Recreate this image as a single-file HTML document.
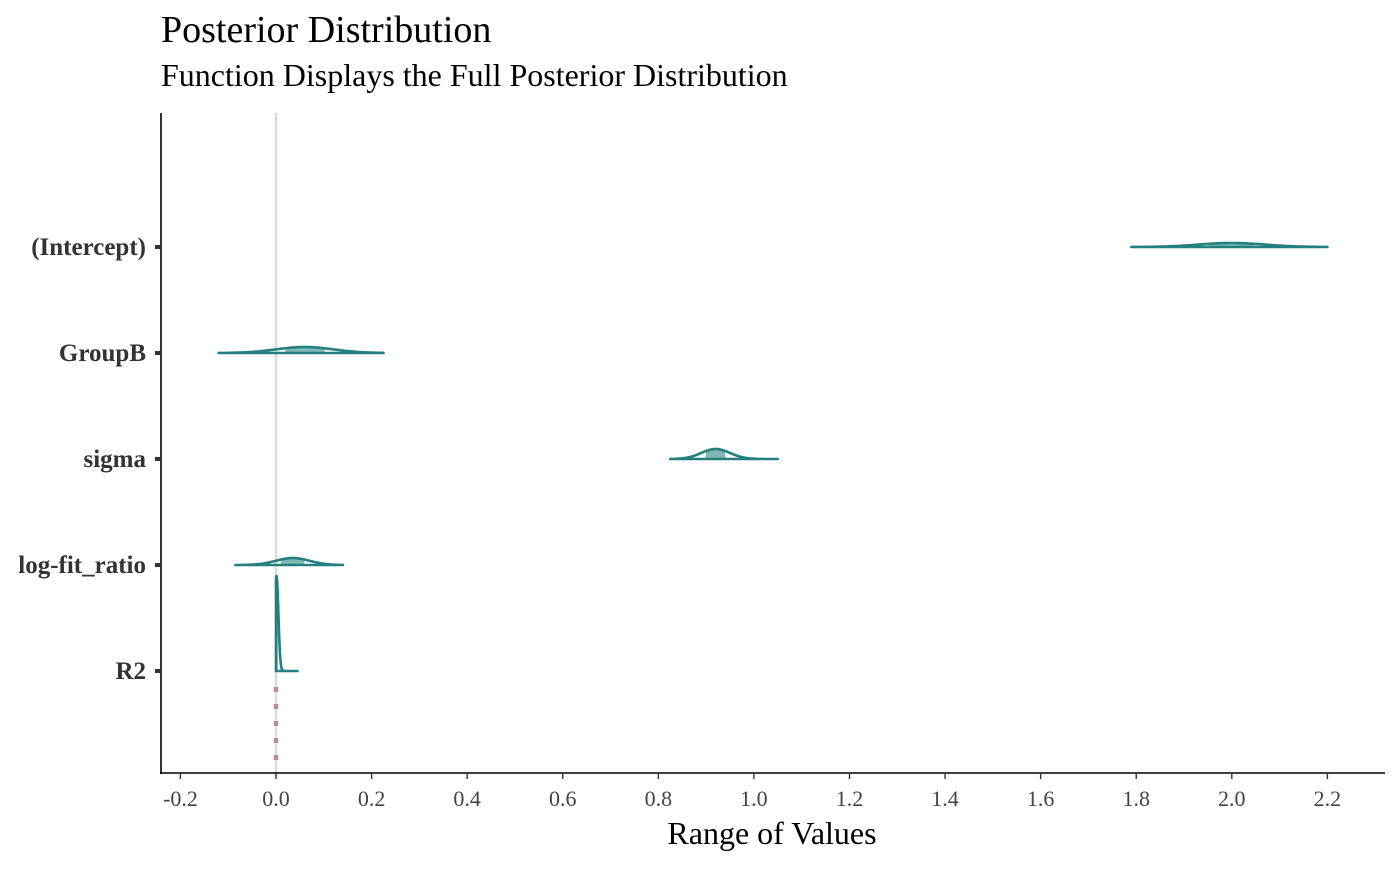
<!DOCTYPE html>
<html><head><meta charset="utf-8"><style>
body{margin:0;background:#fff;}
svg text{font-family:"Liberation Serif",serif;}
</style></head><body>
<svg width="1400" height="865" xmlns="http://www.w3.org/2000/svg">
<text x="161" y="42" font-size="38" fill="#000">Posterior Distribution</text>
<text x="161" y="86" font-size="32" fill="#000">Function Displays the Full Posterior Distribution</text>
<g id="plot"></g>
<text x="772" y="844" font-size="32" text-anchor="middle" fill="#000">Range of Values</text>
</svg>
<script>
const params = ["(Intercept)","GroupB","sigma","log-fit_ratio","R2"];
const means = [2.0, 0.06, 0.92, 0.035, 0.001];
const sds = [0.07, 0.06, 0.03, 0.035, 0.004];
const mins = [1.79, -0.12, 0.825, -0.085, 0.0];
const maxs = [2.2, 0.225, 1.05, 0.14, 0.045];
const peaks = [4, 6, 10, 7, 95];
const xTicks = [-0.2,0,0.2,0.4,0.6,0.8,1.0,1.2,1.4,1.6,1.8,2.0,2.2];
const xTickLabels = ["-0.2","0.0","0.2","0.4","0.6","0.8","1.0","1.2","1.4","1.6","1.8","2.0","2.2"];

const NS="http://www.w3.org/2000/svg";
const g=document.getElementById('plot');
const x=v=>276+(v-0)*477.9;
const y=i=>247+i*106;
function mk(t,a,p){const e=document.createElementNS(NS,t);for(const k in a)e.setAttribute(k,a[k]);(p||g).appendChild(e);return e;}
let zl=mk('line',{x1:x(0),x2:x(0),y1:113,y2:773,stroke:'#dcdcdc','stroke-width':2.5});


let dl=mk('line',{x1:x(0),x2:x(0),y1:y(4)+16,y2:773,stroke:'#c48a8a','stroke-width':4.5,'stroke-dasharray':'5 12'});


let ya=mk('line',{x1:161,x2:161,y1:113,y2:774,stroke:'#000','stroke-width':1.6});


let xa=mk('line',{x1:160,x2:1385,y1:773,y2:773,stroke:'#000','stroke-width':1.6});


xTicks.forEach((t,i)=>{
  const tk=mk('line',{x1:x(t),x2:x(t),y1:773,y2:779,stroke:'#333','stroke-width':1.4});
  
  
  const tl=mk('text',{x:x(t),y:806,'font-size':22,'text-anchor':'middle',fill:'#444'});
  tl.textContent=xTickLabels[i];
  
  
});
params.forEach((p,i)=>{
  const yy=y(i);
  const tk=mk('line',{x1:155,x2:161,y1:yy,y2:yy,stroke:'#333','stroke-width':4});
  
  
  const tl=mk('text',{x:146,y:yy+8,'font-size':25,'font-weight':'bold','text-anchor':'end',fill:'#333'});
  tl.textContent=p;
  
  
  const n=120;let pts=[];
  for(let k=0;k<=n;k++){
    const v=mins[i]+(maxs[i]-mins[i])*k/n;
    const h=peaks[i]*Math.exp(-0.5*Math.pow((v-means[i])/sds[i],2));
    pts.push([x(v),yy-h]);
  }
  const d='M'+x(mins[i])+','+yy+' '+pts.map(q=>'L'+q[0].toFixed(1)+','+q[1].toFixed(1)).join(' ')+' L'+x(maxs[i])+','+yy+' Z';
  const lo=means[i]-sds[i]*0.7, hi=means[i]+sds[i]*0.7;
  let ci='M'+x(Math.max(lo,mins[i]))+','+yy;
  pts.forEach(q=>{const v=(q[0]-276)/477.9; if(v>=lo&&v<=hi) ci+=' L'+q[0].toFixed(1)+','+q[1].toFixed(1);});
  ci+=' L'+x(hi)+','+yy+' Z';
  const cf=mk('path',{d:ci,fill:'#7fb8b5',stroke:'none'});
  
  
  const pe=mk('path',{d:d,fill:'none',stroke:'#23807e','stroke-width':2.6,'stroke-linejoin':'round','stroke-linecap':'round'});
  
  
});
</script>
</body></html>
